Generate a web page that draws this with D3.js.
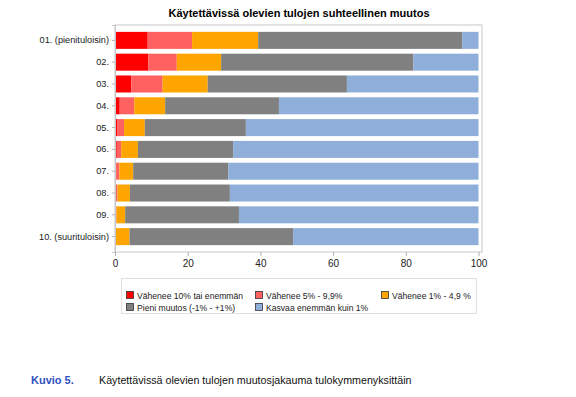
<!DOCTYPE html>
<html>
<head>
<meta charset="utf-8">
<script src="https://cdn.jsdelivr.net/npm/d3@7"></script>
<style>
  body { margin: 0; background: #fff; }
  svg { display: block; font-family: "Liberation Sans", Arial, sans-serif; }
</style>
</head>
<body>
<svg id="mount" width="576" height="397"></svg>
<script>
var chartTitle = "Käytettävissä olevien tulojen suhteellinen muutos";
var captionLabel = "Kuvio 5.";
var captionText = "Käytettävissä olevien tulojen muutosjakauma tulokymmenyksittäin";

// Income deciles
var categories = [
  "01. (pienituloisin)", "02.", "03.", "04.", "05.",
  "06.", "07.", "08.", "09.", "10. (suurituloisin)"
];

// Series names and colours
var seriesNames = [
  "Vähenee 10% tai enemmän",
  "Vähenee 5% - 9,9%",
  "Vähenee 1% - 4,9 %",
  "Pieni muutos (-1% - +1%)",
  "Kasvaa enemmän kuin 1%"
];
var seriesColors = ["#ff0000", "#ff6060", "#ffa500", "#808080", "#8fafda"];

// Shares in percent, one value per decile
var down10 = [9.0, 9.2, 4.5, 1.3, 0.7, 0.5, 0.3, 0.2, 0.1, 0.1];
var down5 = [12.2, 7.8, 8.6, 4.0, 1.8, 1.2, 0.9, 0.5, 0.3, 0.1];
var down1 = [18.2, 12.2, 12.4, 8.5, 5.7, 4.6, 3.8, 3.4, 2.4, 3.8];
var smallChange = [56.1, 52.9, 38.3, 31.3, 27.8, 26.2, 26.2, 27.5, 31.3, 45.0];
var up1 = [4.5, 17.9, 36.2, 54.9, 64.0, 67.5, 68.8, 68.4, 65.9, 51.0];

var xTicks = [0, 20, 40, 60, 80, 100];

var seriesValues = [down10, down5, down1, smallChange, up1];

// Build rows for the stack layout
var rows = categories.map(function(c, i) {
  var row = { category: c };
  seriesNames.forEach(function(s, j) {
    row[s] = seriesValues[j][i];
  });
  return row;
});

var svg = d3.select("#mount");
var plot = { left: 115, right: 482, top: 25, bottom: 252 };

var xScale = d3.scaleLinear()
  .domain([0, 100])
  .range([plot.left, plot.left + 363.5]);
var yScale = d3.scaleBand()
  .domain(categories)
  .range([plot.top, plot.bottom])
  .paddingInner(0.22)
  .paddingOuter(0.315);
var color = d3.scaleOrdinal().domain(seriesNames).range(seriesColors);

// Title
svg.append("text")
  .attr("x", 299)
  .attr("y", 17)
  .attr("text-anchor", "middle")
  .style("font-size", "11px")
  .style("font-weight", "bold")
  .text(chartTitle);

// Plot frame
svg.append("rect")
  .attr("x", plot.left)
  .attr("y", plot.top)
  .attr("width", plot.right - plot.left)
  .attr("height", plot.bottom - plot.top)
  .attr("fill", "none")
  .attr("stroke", "#d0d0d0")
  .attr("stroke-width", 1.2);

// Stacked bars
var stacked = d3.stack().keys(seriesNames)(rows);
svg.append("g")
  .selectAll("g")
  .data(stacked)
  .join("g")
  .attr("fill", function(d) { return color(d.key); })
  .selectAll("rect")
  .data(function(d) { return d; })
  .join("rect")
  .attr("x", function(d) { return xScale(d[0]); })
  .attr("y", function(d) { return yScale(d.data.category); })
  .attr("width", function(d) { return xScale(d[1]) - xScale(d[0]); })
  .attr("height", yScale.bandwidth());

// y axis
var yAxis = svg.append("g")
  .attr("transform", "translate(" + plot.left + ",0)")
  .call(d3.axisLeft(yScale).tickSize(3).tickPadding(3));
yAxis.select(".domain").attr("stroke", "#c8c8c8");
yAxis.selectAll(".tick line").attr("stroke", "#b0b0b0");
yAxis.selectAll(".tick text")
  .attr("fill", "#222")
  .style("font-size", "9.2px")
  .style("font-family", "Liberation Sans, Arial, sans-serif");

// x axis
var xAxis = svg.append("g")
  .attr("transform", "translate(0," + plot.bottom + ")")
  .call(d3.axisBottom(xScale).tickValues(xTicks).tickSize(4).tickPadding(4));
xAxis.select(".domain").remove();
xAxis.selectAll(".tick line").attr("stroke", "#b0b0b0");
xAxis.selectAll(".tick text")
  .attr("fill", "#222")
  .style("font-size", "10px")
  .style("font-family", "Liberation Sans, Arial, sans-serif");

// Legend
var legend = svg.append("g");
legend.append("rect")
  .attr("x", 121.5)
  .attr("y", 278.5)
  .attr("width", 355)
  .attr("height", 35)
  .attr("fill", "#fff")
  .attr("stroke", "#e0e0e0");

var legendX = [126, 255, 381];
var legendY = [296, 308];
var legendItems = legend.selectAll("g.item")
  .data(seriesNames)
  .join("g")
  .attr("class", "item")
  .attr("transform", function(d, i) {
    return "translate(" + legendX[i % 3] + "," + legendY[Math.floor(i / 3)] + ")";
  });
legendItems.append("rect")
  .attr("x", 0.5)
  .attr("y", -4.5)
  .attr("width", 7)
  .attr("height", 7)
  .attr("fill", function(d) { return color(d); })
  .attr("stroke", "#333")
  .attr("stroke-width", 0.8);
legendItems.append("text")
  .attr("x", 11)
  .attr("y", 3)
  .style("font-size", "8.6px")
  .attr("fill", "#222")
  .text(function(d) { return d; });

// Caption below the chart
svg.append("text")
  .attr("x", 31)
  .attr("y", 384)
  .attr("fill", "#3050c0")
  .style("font-size", "11px")
  .style("font-weight", "bold")
  .text(captionLabel);
svg.append("text")
  .attr("x", 99)
  .attr("y", 384)
  .attr("fill", "#111")
  .style("font-size", "10.7px")
  .text(captionText);
</script>
</body>
</html>
